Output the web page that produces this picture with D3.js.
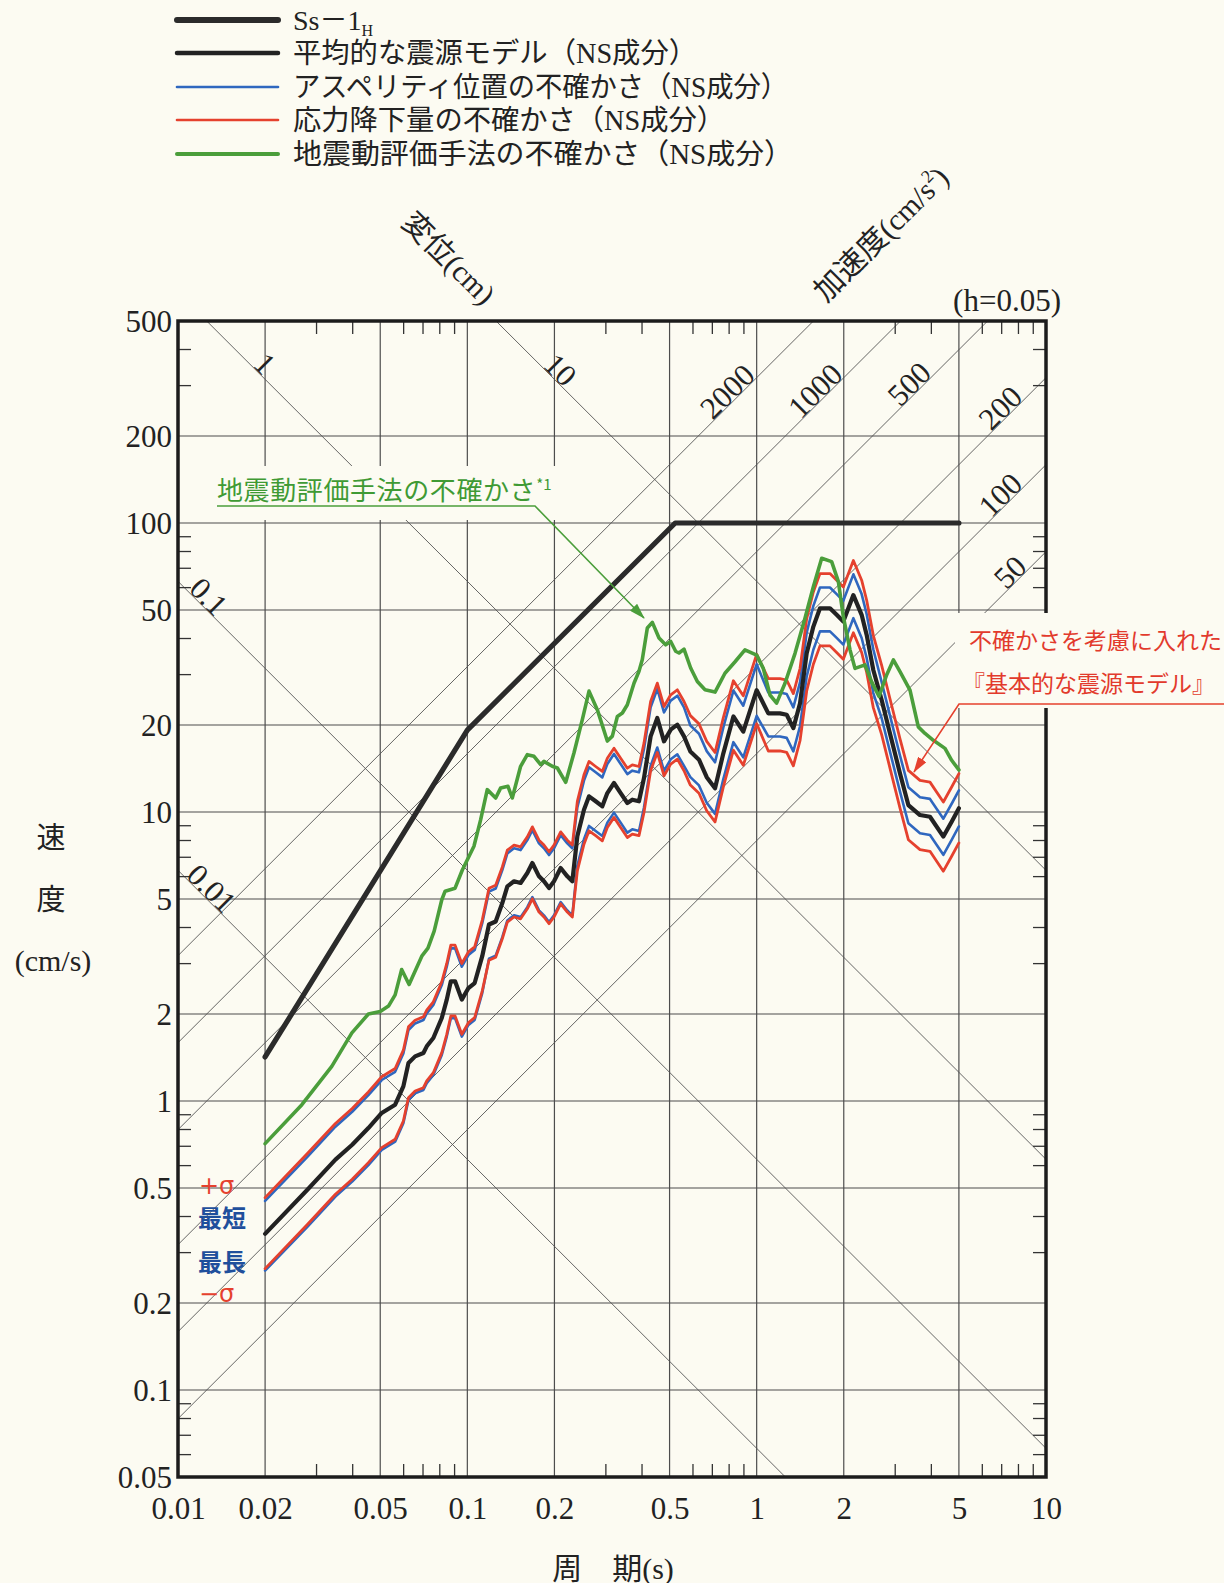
<!DOCTYPE html>
<html lang="ja">
<head>
<meta charset="utf-8">
<title>速度応答スペクトル（NS成分）</title>
<script src="https://cdn.jsdelivr.net/npm/d3@7"></script>
<style>
  html, body { margin: 0; padding: 0; background: #fcfbf2; }
  svg { display: block; }
</style>
</head>
<body>
<svg id="chart" width="1224" height="1583"></svg>
<script>
// ---------------- data ----------------
// Periods (s) shared by the fault-model spectra
const periods = [0.02,0.028,0.035,0.04,0.0455,0.0506,0.0563,0.0601,0.0626,0.066,
  0.0705,0.0724,0.0763,0.0816,0.0849,0.0877,0.0907,0.0957,0.1009,0.106,
  0.1126,0.1188,0.1253,0.1321,0.1375,0.145,0.1528,0.1612,0.1678,0.1769,
  0.184,0.1916,0.1993,0.2102,0.2216,0.2306,0.24,0.253,0.2634,0.2777,
  0.2928,0.3047,0.3213,0.3388,0.3573,0.3717,0.392,0.4079,0.43,0.4535,
  0.4783,0.5045,0.532,0.5609,0.59,0.632,0.672,0.718,0.767,0.831,
  0.899,1.0,1.097,1.204,1.27,1.339,1.412,1.489,1.57,1.655,
  1.792,1.89,1.993,2.159,2.306,2.4,2.53,2.704,2.889,3.129,
  3.344,3.668,3.972,4.418,4.72,5.0];

// 平均的な震源モデル (cm/s)
const meanModel = [0.347,0.493,0.627,0.706,0.806,0.909,0.971,1.124,1.354,1.427,
  1.466,1.546,1.652,1.938,2.243,2.595,2.595,2.243,2.46,2.56,
  3.17,4.08,4.18,4.84,5.53,5.76,5.68,6.15,6.66,5.99,
  5.76,5.46,5.76,6.40,5.99,5.76,8.24,10.19,11.33,10.89,
  10.46,11.63,12.6,11.63,10.74,11.03,10.89,13.11,18.27,21.15,
  17.56,19.27,20.05,18.27,16.2,15.17,13.2,12.08,15.96,21.4,
  18.97,26.4,21.95,21.95,21.7,19.5,23.8,35.4,43.8,50.7,
  50.7,48.1,45.6,56.3,48.1,41.0,31.0,24.4,18.7,13.6,
  10.57,9.76,9.63,8.22,9.26,10.3];

// アスペリティ位置の不確かさ：最短
const asperityNearest = [0.451,0.641,0.815,0.918,1.048,1.182,1.262,1.461,1.760,1.855,
  1.906,2.010,2.148,2.519,2.916,3.374,3.374,2.916,3.198,3.328,
  4.121,5.304,5.434,6.292,7.189,7.488,7.384,7.995,8.658,7.787,
  7.488,7.098,7.488,8.320,7.787,7.488,10.38,12.84,14.28,13.72,
  13.18,14.65,15.88,14.65,13.53,13.90,13.72,16.52,23.02,26.65,
  22.13,24.28,25.26,23.02,19.93,18.66,16.24,14.86,19.63,26.32,
  23.33,32.47,25.90,25.90,25.61,23.01,28.08,41.77,51.68,59.83,
  59.83,56.76,53.81,66.43,56.76,48.38,36.58,28.13,21.56,15.68,
  12.19,11.25,11.10,9.48,10.68,11.88];

// アスペリティ位置の不確かさ：最長
const asperityFarthest = [0.259,0.367,0.467,0.526,0.600,0.677,0.723,0.837,1.009,1.063,
  1.092,1.152,1.231,1.444,1.671,1.933,1.933,1.671,1.833,1.907,
  2.362,3.109,3.185,3.688,4.214,4.389,4.328,4.686,5.075,4.564,
  4.389,4.161,4.389,4.877,4.564,4.389,6.51,8.05,8.95,8.60,
  8.26,9.19,9.95,9.19,8.48,8.71,8.60,10.36,14.43,16.71,
  13.87,15.22,15.84,14.43,13.20,12.36,10.76,9.85,13.01,17.44,
  15.46,21.52,18.26,18.26,18.05,16.22,19.80,29.45,36.44,42.18,
  42.18,40.02,37.94,46.84,40.02,34.11,25.79,21.11,16.18,11.76,
  9.14,8.44,8.33,7.11,8.01,8.91];

// 応力降下量の不確かさ：+σ
const stressPlusSigma = [0.463,0.658,0.836,0.942,1.075,1.213,1.295,1.499,1.806,1.904,
  1.956,2.062,2.204,2.585,2.992,3.462,3.462,2.992,3.282,3.415,
  4.229,5.443,5.576,6.457,7.377,7.684,7.577,8.204,8.884,7.991,
  7.684,7.284,7.684,8.538,7.991,7.684,10.88,13.45,14.96,14.37,
  13.81,15.35,16.63,15.35,14.18,14.56,14.37,17.31,24.12,27.92,
  23.18,25.44,26.47,24.12,21.55,20.18,17.56,16.07,21.23,28.46,
  25.23,35.11,28.93,28.93,28.60,25.70,31.37,46.66,57.73,66.82,
  66.82,63.40,60.10,74.20,63.40,54.04,40.86,32.16,24.65,17.92,
  13.93,12.86,12.69,10.83,12.20,13.58];

// 応力降下量の不確かさ：−σ
const stressMinusSigma = [0.263,0.374,0.476,0.536,0.612,0.690,0.737,0.853,1.027,1.083,
  1.112,1.173,1.253,1.470,1.702,1.969,1.969,1.702,1.866,1.942,
  2.405,3.068,3.143,3.640,4.159,4.332,4.271,4.625,5.008,4.504,
  4.332,4.106,4.332,4.813,4.504,4.332,6.26,7.74,8.61,8.28,
  7.95,8.84,9.58,8.84,8.16,8.38,8.28,9.96,13.89,16.07,
  13.35,14.65,15.24,13.89,12.39,11.61,10.10,9.24,12.21,16.37,
  14.51,20.20,16.26,16.26,16.08,14.45,17.64,26.23,32.46,37.57,
  37.57,35.64,33.79,41.72,35.64,30.38,22.97,18.52,14.19,10.32,
  8.02,7.41,7.31,6.24,7.03,7.82];

// 地震動評価手法の不確かさ
const methodPeriods = [0.02,0.0268,0.034,0.0399,0.0455,0.05,0.0534,0.0563,0.0593,0.0629,
  0.0696,0.0731,0.0768,0.0816,0.0838,0.0907,0.0961,0.1054,0.1112,0.1172,
  0.1253,0.1303,0.1382,0.143,0.1528,0.1612,0.17,0.1793,0.184,0.1966,
  0.2047,0.2188,0.2336,0.2497,0.2634,0.2813,0.3047,0.3171,0.33,0.3434,
  0.3573,0.3767,0.392,0.4025,0.4189,0.4359,0.4597,0.4847,0.5045,0.5249,
  0.539,0.5609,0.5914,0.6237,0.663,0.718,0.751,0.777,0.842,0.911,
  1.0,1.054,1.112,1.172,1.253,1.357,1.469,1.57,1.678,1.816,
  1.916,1.993,2.102,2.187,2.368,2.497,2.648,2.813,2.968,3.129,
  3.388,3.62,3.818,4.08,4.476,4.72,5.0];
const methodValues = [0.712,0.971,1.318,1.72,2.0,2.04,2.13,2.33,2.85,2.53,
  3.17,3.38,3.87,4.97,5.32,5.45,6.3,7.61,9.41,11.95,
  11.18,12.1,12.27,11.18,14.39,15.79,15.58,14.58,14.97,14.39,
  14.2,12.67,16.0,20.87,26.2,22.6,17.6,18.3,21.4,22.0,
  23.5,27.9,30.7,33.7,43.3,45.3,40.0,37.9,38.9,36.0,
  35.5,36.6,31.5,28.3,26.5,26.0,28.3,30.2,33.1,36.4,
  34.9,31.4,25.4,23.8,27.9,35.4,46.8,60.2,75.5,73.5,
  62.7,47.4,36.4,31.4,32.3,28.2,25.1,29.8,33.6,30.6,
  26.4,19.7,18.7,17.7,16.6,15.1,13.98];

// 基準地震動 Ss-1H
const ssPeriods = [0.02, 0.1, 0.523, 5.0];
const ssValues = [1.42, 19.2, 100, 100];

// axes
const periodTicks = [0.01,0.02,0.05,0.1,0.2,0.5,1,2,5,10];
const velocityTicks = [0.05,0.1,0.2,0.5,1,2,5,10,20,50,100,200,500];
const periodMinor = [0.03,0.04,0.06,0.07,0.08,0.09,0.3,0.4,0.6,0.7,0.8,0.9,3,4,6,7,8,9];
const velocityMinor = [0.06,0.07,0.08,0.09,0.3,0.4,0.6,0.7,0.8,0.9,3,4,6,7,8,9,30,40,60,70,80,90,300,400];

// tripartite guide lines: displacement (cm) and acceleration (cm/s2)
const displacementLevels = [0.01, 0.1, 1, 10];
const displacementLabels = ["0.01", "0.1", "1", "10"];
const accelerationLevels = [50, 100, 200, 500, 1000, 2000];
const accelerationLabels = ["50", "100", "200", "500", "1000", "2000"];

const legendLabels = [
  "平均的な震源モデル（NS成分）",
  "アスペリティ位置の不確かさ（NS成分）",
  "応力降下量の不確かさ（NS成分）",
  "地震動評価手法の不確かさ（NS成分）"
];

// ---------------- drawing ----------------
const PAPER = "#fcfbf2";
const SERIF = '"Liberation Serif", "DejaVu Serif", serif';
const MIXED = '"Liberation Serif", "Noto Sans CJK JP", serif';
const GOTHIC = '"Noto Sans CJK JP", "Noto Sans", sans-serif';
const COL = { ss: "#2b2b2b", mean: "#222222", blue: "#2f67bf", red: "#e5412e", green: "#4b9e3b" };
const TWO_PI = 2 * Math.PI;

const svg = d3.select("#chart");
const P = { left: 178, right: 1046, top: 321, bottom: 1477 };
const x = d3.scaleLog().domain([0.01, 10]).range([P.left, P.right]);
const y = d3.scaleLog().domain([0.05, 500]).range([P.bottom, P.top]);
const line = d3.line().x(d => x(d[0])).y(d => y(d[1]));

svg.append("rect").attr("width", 1224).attr("height", 1583).attr("fill", PAPER);

const defs = svg.append("defs");
defs.append("clipPath").attr("id", "plotClip").append("rect")
  .attr("x", P.left).attr("y", P.top)
  .attr("width", P.right - P.left).attr("height", P.bottom - P.top);

function arrowMarker(id, color) {
  defs.append("marker").attr("id", id)
    .attr("viewBox", "0 0 16 10").attr("refX", 15).attr("refY", 5)
    .attr("markerWidth", 16).attr("markerHeight", 10)
    .attr("markerUnits", "userSpaceOnUse").attr("orient", "auto")
    .append("path").attr("d", "M0,0 L16,5 L0,10 Z").attr("fill", color);
}
arrowMarker("arrowGreen", COL.green);
arrowMarker("arrowRed", COL.red);

// grid
const grid = svg.append("g").attr("stroke", "#4d4d4d").attr("stroke-width", 1.2);
grid.selectAll("line.v").data(periodTicks.slice(1, -1)).join("line")
  .attr("x1", d => x(d)).attr("x2", d => x(d)).attr("y1", P.top).attr("y2", P.bottom);
grid.selectAll("line.h").data(velocityTicks.slice(1, -1)).join("line")
  .attr("y1", d => y(d)).attr("y2", d => y(d)).attr("x1", P.left).attr("x2", P.right);

// tripartite diagonals
const diag = svg.append("g").attr("clip-path", "url(#plotClip)")
  .attr("fill", "none").attr("stroke", "#555").attr("stroke-width", 0.9);
const span = [0.001, 100];
diag.selectAll("path.d").data(displacementLevels).join("path")
  .attr("d", D => line(span.map(T => [T, TWO_PI * D / T])));
diag.selectAll("path.a").data(accelerationLevels).join("path")
  .attr("d", A => line(span.map(T => [T, A * T / TWO_PI])));

// minor ticks on all four sides (pointing inward)
const tickLen = 13;
function styleAxis(g) { g.select(".domain").remove(); g.selectAll(".tick line").attr("stroke", "#333").attr("stroke-width", 1.3); }
svg.append("g").attr("transform", `translate(0,${P.bottom})`)
  .call(d3.axisBottom(x).tickValues(periodMinor).tickSize(-tickLen).tickFormat("")).call(styleAxis);
svg.append("g").attr("transform", `translate(0,${P.top})`)
  .call(d3.axisTop(x).tickValues(periodMinor).tickSize(-tickLen).tickFormat("")).call(styleAxis);
svg.append("g").attr("transform", `translate(${P.left},0)`)
  .call(d3.axisLeft(y).tickValues(velocityMinor).tickSize(-tickLen).tickFormat("")).call(styleAxis);
svg.append("g").attr("transform", `translate(${P.right},0)`)
  .call(d3.axisRight(y).tickValues(velocityMinor).tickSize(-tickLen).tickFormat("")).call(styleAxis);

// tick labels
const fmt = d3.format("~g");
const xAxis = svg.append("g").attr("transform", `translate(0,${P.bottom})`)
  .call(d3.axisBottom(x).tickValues(periodTicks).tickSize(0).tickFormat(fmt));
xAxis.select(".domain").remove();
xAxis.selectAll("text").attr("y", 31).attr("dy", "0.35em")
  .attr("font-family", SERIF).attr("font-size", 31).attr("fill", "#222");
const yAxis = svg.append("g").attr("transform", `translate(${P.left},0)`)
  .call(d3.axisLeft(y).tickValues(velocityTicks).tickSize(0).tickPadding(6).tickFormat(fmt));
yAxis.select(".domain").remove();
yAxis.selectAll("text").attr("dy", "0.35em")
  .attr("font-family", SERIF).attr("font-size", 31).attr("fill", "#222");

// frame
svg.append("rect").attr("x", P.left).attr("y", P.top)
  .attr("width", P.right - P.left).attr("height", P.bottom - P.top)
  .attr("fill", "none").attr("stroke", "#1c1c1c").attr("stroke-width", 3.5);

// paper patches behind the annotations
svg.append("rect").attr("x", 207).attr("y", 466).attr("width", 356).attr("height", 54).attr("fill", PAPER);
svg.append("rect").attr("x", 955).attr("y", 613).attr("width", 269).attr("height", 95).attr("fill", PAPER);

// diagonal labels
const labels = svg.append("g").attr("font-family", SERIF).attr("font-size", 31).attr("fill", "#222")
  .attr("text-anchor", "middle");
const dispLabelAt = [0.0131, 0.0128, 0.02, 0.21];
displacementLevels.forEach((D, i) => {
  const T = dispLabelAt[i];
  labels.append("text")
    .attr("transform", `translate(${x(T)},${y(TWO_PI * D / T) - 16}) rotate(45)`)
    .attr("dy", "0.35em").text(displacementLabels[i]);
});
const accLabelAt = [7.5, 6.94, 6.94, 3.36, 1.59, 0.79];
accelerationLevels.forEach((A, i) => {
  const T = accLabelAt[i];
  labels.append("text")
    .attr("transform", `translate(${x(T)},${y(A * T / TWO_PI) - 16}) rotate(-45)`)
    .attr("dy", "0.35em").text(accelerationLabels[i]);
});

// axis titles
svg.append("text").attr("transform", "translate(449,258) rotate(45)")
  .attr("text-anchor", "middle").attr("dy", "0.35em")
  .attr("font-family", MIXED).attr("font-size", 30).attr("fill", "#222").text("変位(cm)");
const accTitle = svg.append("text").attr("transform", "translate(881,234) rotate(-45)")
  .attr("text-anchor", "middle").attr("dy", "0.35em")
  .attr("font-family", MIXED).attr("font-size", 30).attr("fill", "#222");
accTitle.append("tspan").text("加速度(cm/s");
accTitle.append("tspan").attr("font-size", 18).attr("dy", "-0.7em").text("2");
accTitle.append("tspan").attr("dy", "0.42em").text(")");

svg.append("text").attr("x", 1061).attr("y", 300).attr("dy", "0.35em").attr("text-anchor", "end")
  .attr("font-family", SERIF).attr("font-size", 31).attr("fill", "#222").text("(h=0.05)");

const yTitle = svg.append("g").attr("font-family", MIXED).attr("font-size", 29).attr("fill", "#222")
  .attr("text-anchor", "middle");
yTitle.append("text").attr("x", 51).attr("y", 838).attr("dy", "0.35em").text("速");
yTitle.append("text").attr("x", 51).attr("y", 900).attr("dy", "0.35em").text("度");
yTitle.append("text").attr("x", 53).attr("y", 960).attr("dy", "0.35em").attr("font-size", 30).text("(cm/s)");

svg.append("text").attr("x", 613).attr("y", 1568).attr("dy", "0.35em").attr("text-anchor", "middle")
  .attr("font-family", MIXED).attr("font-size", 30).attr("fill", "#222").text("周　期(s)");

// spectra
const curves = svg.append("g").attr("clip-path", "url(#plotClip)")
  .attr("fill", "none").attr("stroke-linejoin", "round").attr("stroke-linecap", "round");
function drawSeries(ts, vs, color, width) {
  curves.append("path").attr("d", line(ts.map((t, i) => [t, vs[i]])))
    .attr("stroke", color).attr("stroke-width", width);
}
drawSeries(periods, asperityNearest, COL.blue, 2.6);
drawSeries(periods, asperityFarthest, COL.blue, 2.6);
drawSeries(periods, stressPlusSigma, COL.red, 2.8);
drawSeries(periods, stressMinusSigma, COL.red, 2.8);
drawSeries(periods, meanModel, COL.mean, 4.2);
drawSeries(methodPeriods, methodValues, COL.green, 3.6);
drawSeries(ssPeriods, ssValues, COL.ss, 5.2);

// annotation: method uncertainty
const gNote = svg.append("text").attr("x", 217).attr("y", 491).attr("dy", "0.35em")
  .attr("font-family", GOTHIC).attr("font-size", 26).attr("letter-spacing", 0.6).attr("fill", "#3f9a34");
gNote.append("tspan").text("地震動評価手法の不確かさ");
gNote.append("tspan").attr("font-size", 15).attr("dy", -10).attr("letter-spacing", 0).text("*1");
svg.append("polyline").attr("points", "217,506 535,506 644,618")
  .attr("fill", "none").attr("stroke", COL.green).attr("stroke-width", 1.6)
  .attr("marker-end", "url(#arrowGreen)");

// annotation: basic source model with uncertainties
const rNote = svg.append("g").attr("font-family", GOTHIC).attr("font-size", 23).attr("fill", "#e23a2c");
rNote.append("text").attr("x", 969).attr("y", 641).attr("dy", "0.35em").text("不確かさを考慮に入れた");
rNote.append("text").attr("x", 962).attr("y", 684).attr("dy", "0.35em").text("『基本的な震源モデル』");
svg.append("polyline").attr("points", "1224,704 959,704 914,772")
  .attr("fill", "none").attr("stroke", COL.red).attr("stroke-width", 1.6)
  .attr("marker-end", "url(#arrowRed)");

// curve tags at the short-period end
const tags = svg.append("g");
tags.append("text").attr("x", 199).attr("y", 1186).attr("dy", "0.35em")
  .attr("font-family", '"DejaVu Sans", sans-serif').attr("font-size", 24).attr("fill", COL.red).text("+σ");
tags.append("text").attr("x", 198).attr("y", 1219).attr("dy", "0.35em")
  .attr("font-family", GOTHIC).attr("font-size", 24).attr("font-weight", 700).attr("fill", "#1f4f9c").text("最短");
tags.append("text").attr("x", 198).attr("y", 1263).attr("dy", "0.35em")
  .attr("font-family", GOTHIC).attr("font-size", 24).attr("font-weight", 700).attr("fill", "#1f4f9c").text("最長");
tags.append("text").attr("x", 199).attr("y", 1294).attr("dy", "0.35em")
  .attr("font-family", '"DejaVu Sans", sans-serif').attr("font-size", 24).attr("fill", COL.red).text("−σ");

// legend
const legendStyle = [
  { color: COL.ss, width: 6 },
  { color: COL.mean, width: 4.5 },
  { color: COL.blue, width: 2.6 },
  { color: COL.red, width: 2.6 },
  { color: COL.green, width: 4 }
];
const legendY = [20, 53, 87, 120, 154];
const legendTextWidth = [404, 495, 432, 500];
const legend = svg.append("g");
legendStyle.forEach((s, i) => {
  legend.append("line").attr("x1", 177).attr("x2", 278).attr("y1", legendY[i]).attr("y2", legendY[i])
    .attr("stroke", s.color).attr("stroke-width", s.width).attr("stroke-linecap", "round");
});
const ssLabel = legend.append("text").attr("x", 293).attr("y", legendY[0]).attr("dy", "0.35em")
  .attr("font-family", MIXED).attr("font-size", 28).attr("fill", "#222");
ssLabel.append("tspan").text("Ss－1");
ssLabel.append("tspan").attr("font-size", 16).attr("dy", 6).text("H");
legendLabels.forEach((t, i) => {
  legend.append("text").attr("x", 293).attr("y", legendY[i + 1]).attr("dy", "0.35em")
    .attr("font-family", MIXED).attr("font-size", 28.5).attr("fill", "#222")
    .attr("textLength", legendTextWidth[i]).attr("lengthAdjust", "spacingAndGlyphs").text(t);
});
</script>
</body>
</html>
